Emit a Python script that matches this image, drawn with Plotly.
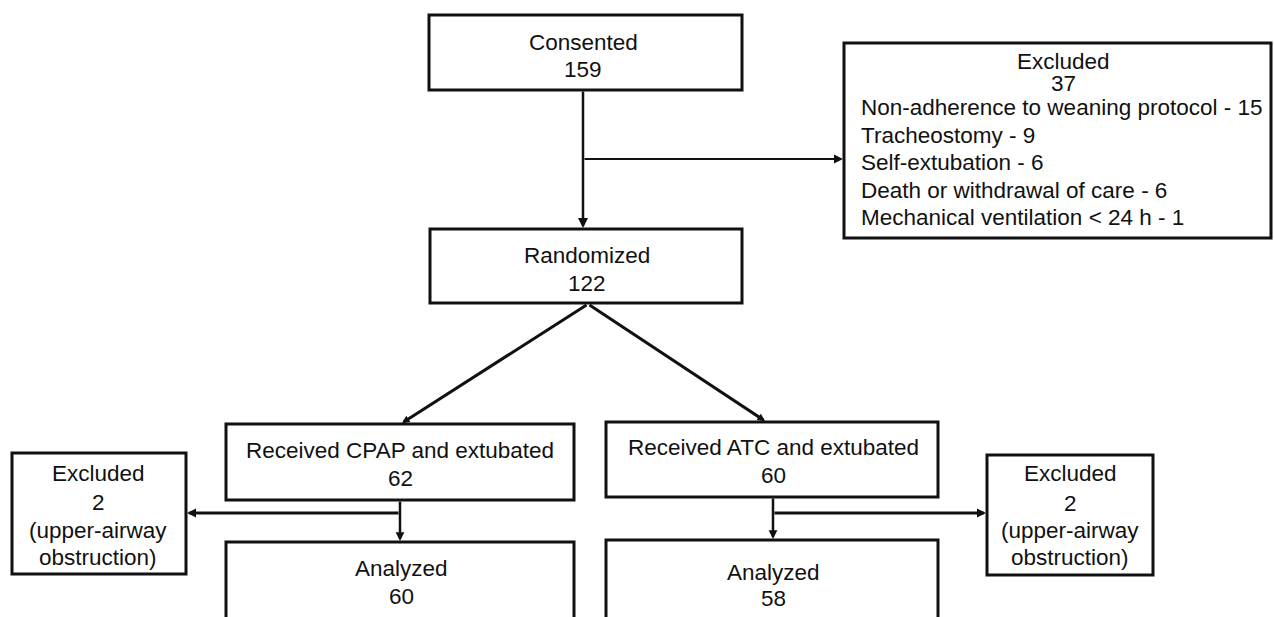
import plotly.graph_objects as go

# ---- data ----
stage_labels = ["Consented", "Randomized", "Received CPAP and extubated",
                "Received ATC and extubated", "Analyzed", "Analyzed"]
stage_counts = [159, 122, 62, 60, 60, 58]
excluded_title = "Excluded"
excluded_total = 37
exclusion_reasons = ["Non-adherence to weaning protocol", "Tracheostomy",
                     "Self-extubation", "Death or withdrawal of care",
                     "Mechanical ventilation < 24 h"]
exclusion_counts = [15, 9, 6, 6, 1]
arm_excluded_counts = [2, 2]
arm_excluded_reason = ["(upper-airway", "obstruction)"]

# ---- layout (page-pixel coordinate system) ----
W, H = 1274, 617
FONT = "Arial, Liberation Sans, sans-serif"
INK = "#111111"
FS = 22.5

# box geometry: (x0, y0, x1, y1, text_y_lines, text center x)
stage_boxes = [
    (429, 15, 742, 90, [42, 69], 583),
    (430, 229, 742, 303, [255, 283], 587),
    (226, 424, 574, 500, [450, 478], 400),
    (606, 422, 938, 497, [447, 475], 773),
    (226, 542, 574, 660, [568, 596], 401),
    (606, 540, 938, 660, [572, 598], 773),
]

fig = go.Figure()
shapes = []
annotations = []


def box(x0, y0, x1, y1, lw=3):
    shapes.append(dict(type="rect", xref="x", yref="y", x0=x0, y0=y0, x1=x1, y1=y1,
                       line=dict(color=INK, width=lw), fillcolor="white", layer="below"))


def text(x, y, s, size=FS, anchor="center"):
    annotations.append(dict(x=x, y=y, xref="x", yref="y", text=s, showarrow=False,
                            xanchor=anchor, yanchor="middle",
                            font=dict(family=FONT, size=size, color=INK)))


def arrow(x0, y0, x1, y1, lw=2.5, size=0.7):
    annotations.append(dict(x=x1, y=y1, ax=x0, ay=y0, xref="x", yref="y",
                            axref="x", ayref="y", text="", showarrow=True,
                            arrowhead=2, arrowsize=size, arrowwidth=lw,
                            arrowcolor=INK, standoff=0, startstandoff=0))


for (x0, y0, x1, y1, ty, cx), lab, cnt in zip(stage_boxes, stage_labels, stage_counts):
    box(x0, y0, x1, y1)
    text(cx, ty[0], lab)
    text(cx, ty[1], str(cnt))

# top exclusion box
box(844, 43, 1271, 238)
text(1063, 61, excluded_title)
text(1063, 83, str(excluded_total))
list_y = [107, 135, 162, 190, 217]
for yy, reason, c in zip(list_y, exclusion_reasons, exclusion_counts):
    text(859, yy, f"{reason} - {c}", anchor="left")

# arm exclusion boxes
arm_boxes = [(12, 453, 186, 574, 98, [473, 502, 530, 557]),
             (987, 455, 1153, 575, 1070, [473, 503, 530, 557])]
for (x0, y0, x1, y1, cx, ty), c in zip(arm_boxes, arm_excluded_counts):
    box(x0, y0, x1, y1)
    lines = [excluded_title, str(c)] + arm_excluded_reason
    for yy, s in zip(ty, lines):
        text(cx, yy, s)

# connectors
arrow(583, 90, 583, 228, lw=2.5, size=0.8)
arrow(583, 159, 843, 159, lw=2, size=0.9)
arrow(588, 304, 402, 423, lw=3, size=0.5)
arrow(588, 304, 765, 421, lw=3, size=0.5)
arrow(400, 500, 400, 541, lw=2.5, size=0.7)
arrow(400, 513, 187, 513, lw=3, size=0.6)
arrow(773, 497, 773, 539, lw=2.5, size=0.7)
arrow(773, 513, 986, 513, lw=3, size=0.6)

fig.update_layout(
    width=W, height=H,
    margin=dict(l=0, r=0, t=0, b=0),
    paper_bgcolor="white", plot_bgcolor="white",
    xaxis=dict(range=[0, W], visible=False, fixedrange=True),
    yaxis=dict(range=[H, 0], visible=False, fixedrange=True),
    shapes=shapes, annotations=annotations,
    showlegend=False,
)

fig.write_html(
    "out.html",
    config={"displayModeBar": False},
    post_script="document.body.style.margin='0';document.body.style.overflow='hidden';",
)
